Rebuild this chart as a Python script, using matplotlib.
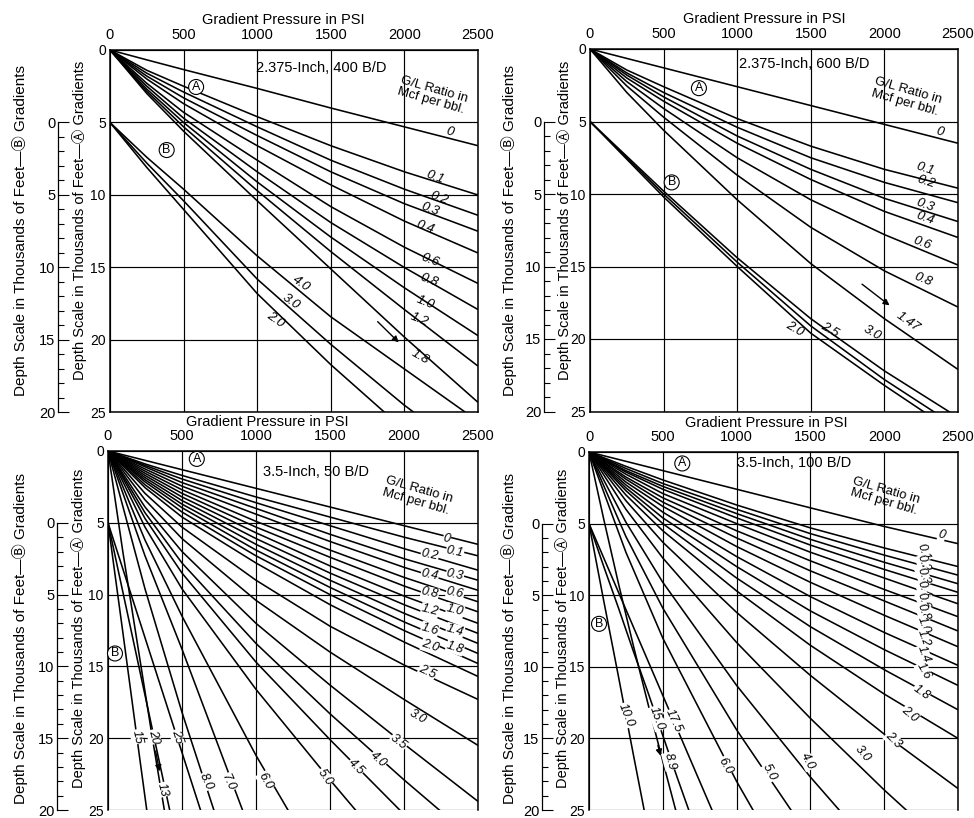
"""
Gradient curves, 2.375-inch and 3.5-inch tubing (four panels)
"""

import numpy as np
import matplotlib
matplotlib.use('Agg')
import matplotlib.pyplot as plt

plt.rcParams['font.family'] = ['Liberation Sans', 'DejaVu Sans', 'Noto Sans CJK SC']

W, H = 974, 818
nan = np.nan

# ---------------- panel 1: 2.375-Inch, 400 B/D ----------------
p1_press = [0, 250, 500, 1000, 1500, 2000, 2500]
p1_a = {
    '0':   [0, 0.68, 1.35, 2.65, 4.0, 5.3, 6.6],
    '0.1': [0, 1.4, 2.5, 4.6, 6.6, 8.4, 10.0],
    '0.2': [0, 1.6, 2.9, 5.3, 7.6, 9.6, 11.4],
    '0.3': [0, 1.8, 3.3, 5.9, 8.4, 10.6, 12.5],
    '0.4': [0, 2.0, 3.7, 6.6, 9.3, 11.8, 14.0],
    '0.6': [0, 2.3, 4.3, 7.6, 10.8, 13.6, 16.1],
    '0.8': [0, 2.5, 4.7, 8.4, 11.9, 15.0, 17.9],
    '1.0': [0, 2.7, 5.0, 9.1, 12.9, 16.4, 19.7],
    '1.2': [0, 2.85, 5.3, 9.7, 13.9, 17.9, 21.8],
    '1.8': [0, 3.0, 5.6, 10.4, 15.1, 19.8, 24.3],
}
# B curves, depth read on the A scale (B = A - 5)
p1_b = {
    '4.0': [5, 7.4, 9.6, 14.2, 18.4, 22.0, 25.6],
    '3.0': [5, 7.8, 10.4, 15.8, 20.3, 24.5, 28.3],
    '2.0': [5, 8.1, 11.0, 16.8, 21.7, 26.2, nan],
}

# ---------------- panel 2: 2.375-Inch, 600 B/D ----------------
p2_press = [0, 250, 500, 1000, 1500, 2000, 2500]
p2_a = {
    '0':    [0, 0.65, 1.3, 2.6, 3.9, 5.2, 6.5],
    '0.1':  [0, 1.45, 2.6, 4.8, 6.7, 8.3, 9.6],
    '0.2':  [0, 1.65, 3.0, 5.4, 7.5, 9.2, 10.6],
    '0.3':  [0, 1.8, 3.3, 6.0, 8.3, 10.3, 11.9],
    '0.4':  [0, 2.0, 3.6, 6.5, 9.0, 11.2, 13.0],
    '0.6':  [0, 2.25, 4.1, 7.5, 10.4, 12.8, 14.9],
    '0.8':  [0, 2.55, 4.7, 8.7, 12.3, 15.3, 17.8],
    '1.47': [0, 3.0, 5.6, 10.4, 14.8, 18.6, 22.1],
}
p2_b = {
    '2.0': [5, 7.6, 10.2, 15.0, 19.6, 23.2, 26.6],
    '2.5': [5, 7.5, 10.0, 14.7, 19.1, 22.8, 26.1],
    '3.0': [5, 7.4, 9.8, 14.4, 18.6, 22.2, 25.4],
}

# ---------------- panel 3: 3.5-Inch, 50 B/D ----------------
p3_press = [0, 250, 500, 1000, 1500, 2000, 2500]
p3_a = {
    '0':   [0, 0.65, 1.3, 2.6, 3.9, 5.2, 6.5],
    '0.1': [0, 0.9, 1.7, 3.2, 4.6, 6.0, 7.3],
    '0.2': [0, 1.0, 1.95, 3.6, 5.2, 6.8, 8.3],
    '0.3': [0, 1.1, 2.2, 4.0, 5.8, 7.5, 9.0],
    '0.4': [0, 1.25, 2.45, 4.4, 6.3, 8.1, 9.7],
    '0.6': [0, 1.4, 2.7, 4.9, 6.9, 8.8, 10.5],
    '0.8': [0, 1.55, 2.95, 5.3, 7.4, 9.4, 11.2],
    '1.0': [0, 1.7, 3.2, 5.7, 8.0, 10.1, 12.0],
    '1.2': [0, 1.85, 3.45, 6.1, 8.5, 10.7, 12.7],
    '1.4': [0, 2.0, 3.7, 6.5, 9.0, 11.3, 13.4],
    '1.6': [0, 2.15, 3.95, 6.9, 9.5, 11.9, 14.1],
    '1.8': [0, 2.35, 4.25, 7.3, 10.0, 12.5, 14.8],
    '2.0': [0, 2.55, 4.6, 7.8, 10.7, 13.3, 15.7],
    '2.5': [0, 2.95, 5.3, 9.0, 12.2, 14.9, 17.3],
    '3.0': [0, 3.4, 6.1, 10.4, 14.0, 17.3, 20.5],
    '3.5': [0, 3.9, 7.0, 12.0, 16.3, 20.4, 24.4],
    '4.0': [0, 4.3, 7.8, 13.4, 18.3, 22.9, 27.3],
    '4.5': [0, 4.7, 8.5, 14.7, 20.1, 25.3, nan],
    '5.0': [0, 5.3, 9.6, 16.6, 22.9, 29.0, nan],
    '6.0': [0, 6.2, 11.5, 21.2, 30.0, nan, nan],
    '7.0': [0, 7.3, 13.8, 27.5, nan, nan, nan],
    '8.0': [0, 9.6, 18.2, 34.0, nan, nan, nan],
}
p3_steep_press = [0, 100, 200, 300, 400, 500, 600, 700]
p3_steep = {
    '13': [0, 7.0, 13.5, 20.0, 26.2, nan, nan, nan],
    '15': [5, 12.6, 20.3, 27.9, nan, nan, nan, nan],
    '20': [5, 9.8, 14.6, 19.4, 24.2, 29.0, nan, nan],
    '25': [5, 8.2, 11.4, 14.6, 17.8, 21.0, 24.2, 27.4],
}

# ---------------- panel 4: 3.5-Inch, 100 B/D ----------------
p4_press = [0, 250, 500, 1000, 1500, 2000, 2500]
p4_a = {
    '0':   [0, 0.65, 1.3, 2.6, 3.9, 5.2, 6.4],
    '0.1': [0, 1.0, 1.95, 3.7, 5.3, 6.7, 8.0],
    '0.2': [0, 1.15, 2.2, 4.0, 5.7, 7.2, 8.6],
    '0.3': [0, 1.3, 2.4, 4.3, 6.1, 7.7, 9.2],
    '0.4': [0, 1.4, 2.6, 4.6, 6.5, 8.2, 9.8],
    '0.6': [0, 1.55, 2.9, 5.0, 7.0, 8.8, 10.6],
    '0.8': [0, 1.75, 3.2, 5.5, 7.6, 9.6, 11.5],
    '1.0': [0, 1.9, 3.5, 6.0, 8.3, 10.4, 12.5],
    '1.2': [0, 2.1, 3.8, 6.6, 9.1, 11.4, 13.6],
    '1.4': [0, 2.3, 4.2, 7.3, 10.1, 12.6, 14.9],
    '1.6': [0, 2.5, 4.6, 8.0, 11.1, 13.8, 16.3],
    '1.8': [0, 2.7, 5.0, 8.8, 12.2, 15.2, 18.0],
    '2.0': [0, 3.0, 5.5, 9.7, 13.5, 16.9, 20.0],
    '2.3': [0, 3.4, 6.3, 11.2, 15.6, 19.7, 23.5],
    '3.0': [0, 4.0, 7.4, 13.3, 18.6, 23.6, 28.3],
    '4.0': [0, 4.9, 9.1, 16.3, 22.7, 28.6, nan],
    '5.0': [0, 5.9, 10.9, 19.4, 27.0, nan, nan],
    '6.0': [0, 7.0, 13.0, 23.0, 32.0, nan, nan],
}
p4_steep_press = [0, 100, 200, 300, 400, 500, 600, 700, 800, 900]
p4_steep = {
    '8.9':  [0, 4.7, 9.2, 13.5, 17.6, 21.6, 25.5, nan, nan, nan],
    '10.0': [5, 10.4, 15.7, 21.1, 26.4, nan, nan, nan, nan, nan],
    '15.0': [5, 8.0, 10.9, 13.9, 16.8, 19.8, 22.8, 25.7, nan, nan],
    '17.5': [5, 7.4, 9.8, 12.2, 14.6, 17.0, 19.4, 21.8, 24.2, 26.6],
}

# curve labels: (text, pressure, depth, rotation)
p1_labels = [('0', 2310, 5.65, -15), ('0.1', 2210, 8.8, -20), ('0.2', 2235, 10.2, -20),
             ('0.3', 2175, 11.0, -20), ('0.4', 2140, 12.2, -20), ('0.6', 2175, 14.5, -20),
             ('0.8', 2165, 15.9, -20), ('1.0', 2140, 17.4, -22), ('1.2', 2100, 18.6, -22),
             ('1.8', 2110, 21.2, -30), ('4.0', 1300, 16.1, -35), ('3.0', 1230, 17.4, -35),
             ('2.0', 1125, 18.6, -35)]
p2_labels = [('0', 2375, 5.7, -15), ('0.1', 2275, 8.3, -18), ('0.2', 2280, 9.2, -18),
             ('0.3', 2275, 10.8, -20), ('0.4', 2275, 11.7, -20), ('0.6', 2255, 13.4, -20),
             ('0.8', 2260, 15.9, -22), ('1.47', 2160, 18.8, -35), ('2.0', 1390, 19.3, -30),
             ('2.5', 1630, 19.4, -30), ('3.0', 1915, 19.6, -30)]
p3_labels = [('0', 2290, 6.1, -12), ('0.1', 2345, 7.0, -12), ('0.2', 2175, 7.2, -12),
             ('0.3', 2345, 8.6, -12), ('0.4', 2175, 8.6, -12), ('0.6', 2345, 9.9, -12),
             ('0.8', 2175, 9.9, -12), ('1.0', 2345, 11.1, -14), ('1.2', 2175, 11.1, -14),
             ('1.4', 2345, 12.5, -16), ('1.6', 2175, 12.4, -16), ('1.8', 2345, 13.7, -18),
             ('2.0', 2175, 13.6, -18), ('2.5', 2155, 15.4, -25), ('3.0', 2090, 18.5, -30),
             ('3.5', 1960, 20.3, -38), ('4.0', 1825, 21.5, -42), ('4.5', 1675, 22.0, -45),
             ('5.0', 1465, 22.7, -55), ('6.0', 1060, 23.0, -60), ('7.0', 810, 23.1, -65),
             ('8.0', 665, 23.0, -65), ('13', 365, 23.6, -75), ('15', 195, 19.9, -78),
             ('20', 310, 19.9, -75), ('25', 465, 19.9, -72)]
p4_labels = [('0', 2390, 5.8, -15), ('0.1', 2265, 7.0, -70), ('0.2', 2265, 7.8, -70),
             ('0.3', 2265, 8.7, -70), ('0.4', 2265, 9.6, -70), ('0.6', 2265, 10.4, -70),
             ('0.8', 2265, 11.2, -70), ('1.0', 2265, 12.1, -70), ('1.2', 2265, 13.0, -70),
             ('1.4', 2265, 14.1, -70), ('1.6', 2265, 15.3, -60), ('1.8', 2250, 16.8, -35),
             ('2.0', 2175, 18.3, -40), ('2.3', 2060, 20.1, -45), ('3.0', 1855, 21.1, -50),
             ('4.0', 1480, 21.6, -62), ('5.0', 1225, 22.4, -62), ('6.0', 925, 21.9, -60),
             ('8.9', 545, 21.6, -75), ('10.0', 250, 18.4, -68), ('15.0', 460, 18.6, -70),
             ('17.5', 575, 18.8, -65)]

A_LABEL = 'Depth Scale in Thousands of Feet\u2014\u24b6 Gradients'
B_LABEL = 'Depth Scale in Thousands of Feet\u2014\u24b7 Gradients'

fig = plt.figure(figsize=(W / 100, H / 100), dpi=100)


def rect_px(l, t, r, b):
    return [l / W, 1 - b / H, (r - l) / W, (b - t) / H]


def draw_panel(box, curve_sets, labels, inline, title, title_at, gl_at, a_at, b_at,
               arrow, b_axis_x, a_text_x, b_text_x, text_y, label_x, label_gap, bottom=True):
    l, t, r, b = box
    ax = fig.add_axes(rect_px(l, t, r, b))
    for press, curves in curve_sets:
        for name, depth in curves.items():
            ax.plot(press, depth, color='black', lw=1.15, solid_capstyle='butt')

    ax.set_xlim(0, 2500)
    ax.set_ylim(25, 0)
    ax.xaxis.tick_top()
    ax.set_xticks(range(0, 2501, 500))
    ax.set_yticks(range(0, 26, 5))
    ax.grid(True, color='black', lw=0.85)
    ax.tick_params(length=0, labelsize=10.5)
    ax.tick_params(axis='x', pad=6)
    ax.tick_params(axis='y', pad=3, labelsize=10)
    for s in ax.spines.values():
        s.set_linewidth(1.1)
    if not bottom:
        ax.spines['bottom'].set_visible(False)
    ax.set_xlabel('Gradient Pressure in PSI', fontsize=10.5)
    ax.xaxis.set_label_position('top')
    ax.xaxis.set_label_coords(label_x, 1 + label_gap / (b - t))

    # second depth scale for the B curves
    sec = ax.secondary_yaxis((b_axis_x - l) / (r - l),
                             functions=(lambda y: y - 5, lambda y: y + 5))
    sec.set_yticks(range(0, 21, 5))
    sec.set_yticks(range(0, 21), minor=True)
    sec.spines['left'].set_bounds(0, 20)
    sec.spines['left'].set_linewidth(0.9)
    sec.tick_params(which='major', direction='in', length=8, width=0.8, labelsize=10.5, pad=2)
    sec.tick_params(which='minor', direction='in', length=4, width=0.8)

    fig.text(a_text_x / W, 1 - text_y / H, A_LABEL, rotation=90, ha='center', va='center',
             fontsize=10.5)
    fig.text(b_text_x / W, 1 - (text_y + 10) / H, B_LABEL, rotation=90, ha='center',
             va='center', fontsize=11)

    ax.text(title_at[0], title_at[1], title, fontsize=10.5, ha='left', va='center')
    ax.text(gl_at[0], gl_at[1], 'G/L Ratio in\nMcf per bbl.', fontsize=9.5, ha='center',
            va='center', rotation=-16, linespacing=1.0)

    circ = dict(boxstyle='circle,pad=0.12', fc='white', ec='black', lw=0.8)
    ax.text(a_at[0], a_at[1], 'A', fontsize=9, ha='center', va='center', bbox=circ)
    ax.text(b_at[0], b_at[1], 'B', fontsize=9, ha='center', va='center', bbox=circ)

    for text, p, d, rot in labels:
        kw = {}
        if inline:
            kw['bbox'] = dict(fc='white', ec='none', pad=0.3)
        ax.text(p, d, text, fontsize=9 if inline else 9.5, style='italic', ha='center',
                va='center', rotation=rot, rotation_mode='anchor', **kw)

    ax.annotate('', xy=arrow[1], xytext=arrow[0],
                arrowprops=dict(arrowstyle='-|>', color='black', lw=1.0, mutation_scale=9))
    return ax


draw_panel((110, 50, 478, 412.5), [(p1_press, p1_a), (p1_press, p1_b)], p1_labels, False,
           '2.375-Inch, 400 B/D', (990, 1.25), (2190, 3.1), (585, 2.55), (385, 6.9),
           ((1805, 18.6), (1975, 20.3)), 58, 80, 20, 220, 0.47, 26)
draw_panel((590, 49, 958, 411.5), [(p2_press, p2_a), (p2_press, p2_b)], p2_labels, False,
           '2.375-Inch, 600 B/D', (1010, 1.0), (2150, 3.3), (740, 2.7), (555, 9.2),
           ((1833, 16.1), (2050, 17.8)), 544, 564, 509, 220, 0.473, 26)
draw_panel((108, 451, 478, 810), [(p3_press, p3_a), (p3_steep_press, p3_steep)], p3_labels,
           True, '3.5-Inch, 50 B/D', (1050, 1.45), (2090, 3.1), (600, 0.55), (47, 14.1),
           ((318, 20.7), (352, 22.5)), 57, 79, 20, 628, 0.43, 25, bottom=False)
draw_panel((589, 452, 958, 810), [(p4_press, p4_a), (p4_steep_press, p4_steep)], p4_labels,
           True, '3.5-Inch, 100 B/D', (1005, 0.8), (2005, 3.1), (632, 0.8), (68, 12.0),
           ((462, 20.3), (490, 21.4)), 542, 562, 509, 628, 0.48, 25, bottom=False)

plt.savefig('out.png', dpi=100)
plt.close()
